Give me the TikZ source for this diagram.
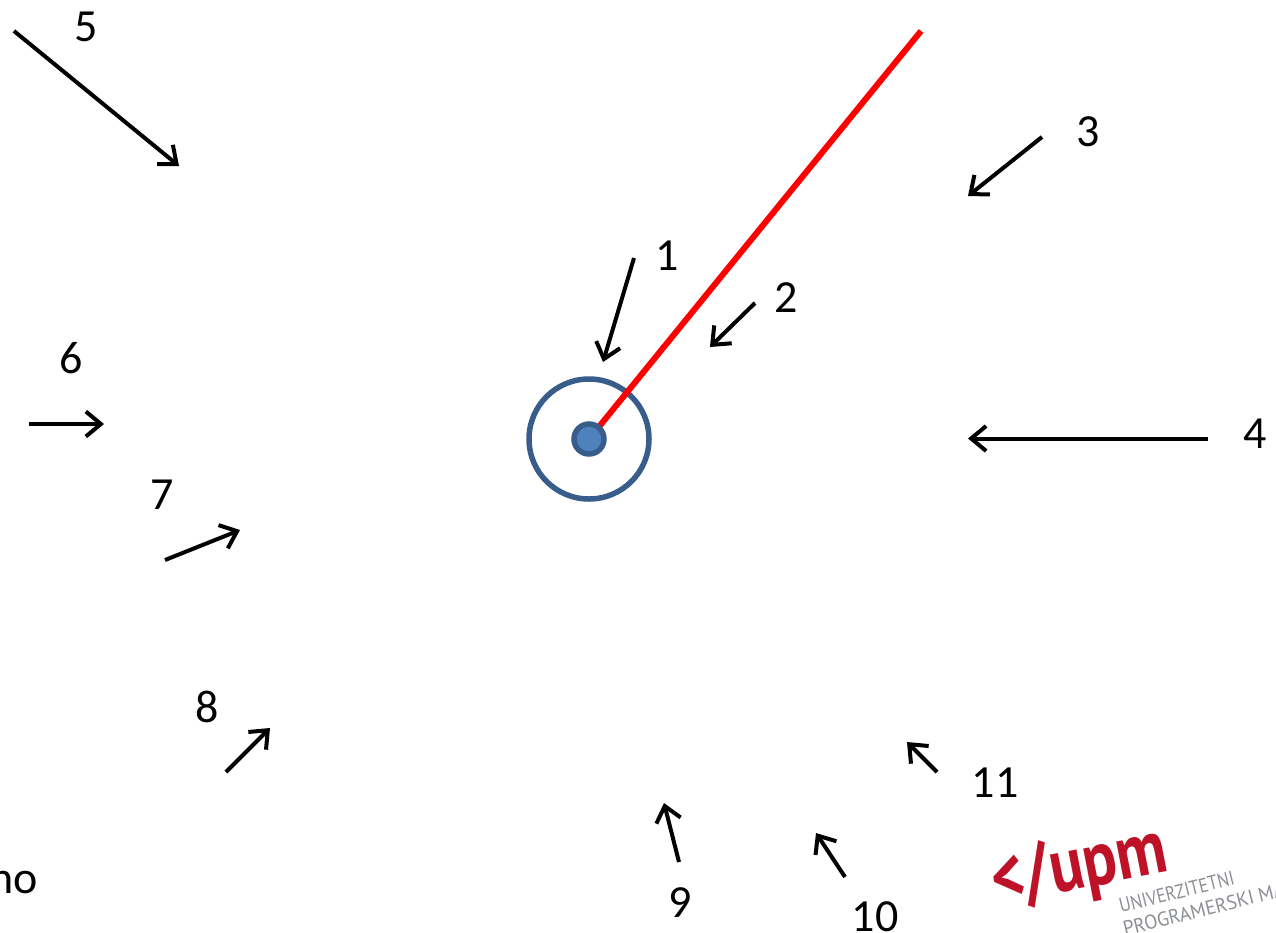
\documentclass[tikz,border=0pt]{standalone}
\usepackage{fontspec}
\setmainfont{Carlito}
\newfontfamily\logofont{PT Sans}
\usetikzlibrary{arrows.meta}
\definecolor{ringblue}{HTML}{385D8A}
\definecolor{dotblue}{HTML}{4F81BD}
\definecolor{upmred}{HTML}{BE1229}
\definecolor{upmgrey}{HTML}{8C9094}
\tikzset{
  x=1pt,y=-1pt,
  pointer/.style={draw=black,line width=4pt,-{Straight Barb[length=15pt,width=25pt,line width=4pt]}},
  num/.style={font=\fontsize{46}{46}\selectfont,inner sep=0pt,text=black,anchor=center},
  ring/.style={draw=ringblue,line width=5.5pt,circle,minimum size=120pt,inner sep=0pt},
  hub/.style={draw=ringblue,line width=5.5pt,fill=dotblue,circle,minimum size=30pt,inner sep=0pt},
  hand/.style={draw=red,line width=6pt},
  logomark/.style={font=\logofont\bfseries\fontsize{70}{70}\selectfont,text=upmred,rotate=11,inner sep=0pt,anchor=base west},
  logotext/.style={font=\logofont\fontsize{19}{19}\selectfont,text=upmgrey,rotate=14,inner sep=0pt,anchor=base west},
}
\begin{document}
\begin{tikzpicture}
\useasboundingbox (0,0) rectangle (1276,932);
\clip (0,0) rectangle (1276,932);
\fill[white] (0,0) rectangle (1276,932);
% hand and dial
\coordinate (handtip) at (921,31);
\node[ring] (dial) at (589,439) {};
\draw[hand] (589,439) -- (handtip);
\node[hub] (hubdot) at (589,439) {};
% arrows
\coordinate (a1s) at (634,258); \coordinate (a1e) at (603,362);
\coordinate (a2s) at (755,303); \coordinate (a2e) at (710,347);
\coordinate (a3s) at (1042,137); \coordinate (a3e) at (968,196);
\coordinate (a4s) at (1208,438.5); \coordinate (a4e) at (968,438.5);
\coordinate (a5s) at (14,31); \coordinate (a5e) at (179,166);
\coordinate (a6s) at (29,424); \coordinate (a6e) at (104,424);
\coordinate (a7s) at (165,560); \coordinate (a7e) at (240,530);
\coordinate (a8s) at (226,772); \coordinate (a8e) at (270,728);
\coordinate (a9s) at (679,862); \coordinate (a9e) at (664,803);
\coordinate (a10s) at (845,877); \coordinate (a10e) at (816,833);
\coordinate (a11s) at (937,772); \coordinate (a11e) at (907,742);
\draw[pointer] (a1s) -- (a1e);
\draw[pointer] (a2s) -- (a2e);
\draw[pointer] (a3s) -- (a3e);
\draw[pointer] (a4s) -- (a4e);
\draw[pointer] (a5s) -- (a5e);
\draw[pointer] (a6s) -- (a6e);
\draw[pointer] (a7s) -- (a7e);
\draw[pointer] (a8s) -- (a8e);
\draw[pointer] (a9s) -- (a9e);
\draw[pointer] (a10s) -- (a10e);
\draw[pointer] (a11s) -- (a11e);
% labels
\node[num] (n1) at (667,255.5) {1};
\node[num] (n2) at (786,297.5) {2};
\node[num] (n3) at (1088,131.5) {3};
\node[num] (n4) at (1255,433.5) {4};
\node[num] (n5) at (86,26.5) {5};
\node[num] (n6) at (71,358.5) {6};
\node[num] (n7) at (162,494.5) {7};
\node[num] (n8) at (207,706.5) {8};
\node[num] (n9) at (680,902.5) {9};
\node[num] (n10) at (875,916.5) {10};
\node[num] (n11) at (995,782.5) {11};
\node[num,anchor=base east] (frag) at (38,893) {no};
% logo
\node[logomark] (logoa) at (996,905) {\scalebox{0.9}[1.1]{</upm}};
\node[logotext] (logob) at (1121,913) {\scalebox{0.92}[1.05]{UNIVERZITETNI}};
\node[logotext] (logoc) at (1125,936) {\scalebox{1.02}[1.05]{PROGRAMERSKI MA}};
\end{tikzpicture}
\end{document}
